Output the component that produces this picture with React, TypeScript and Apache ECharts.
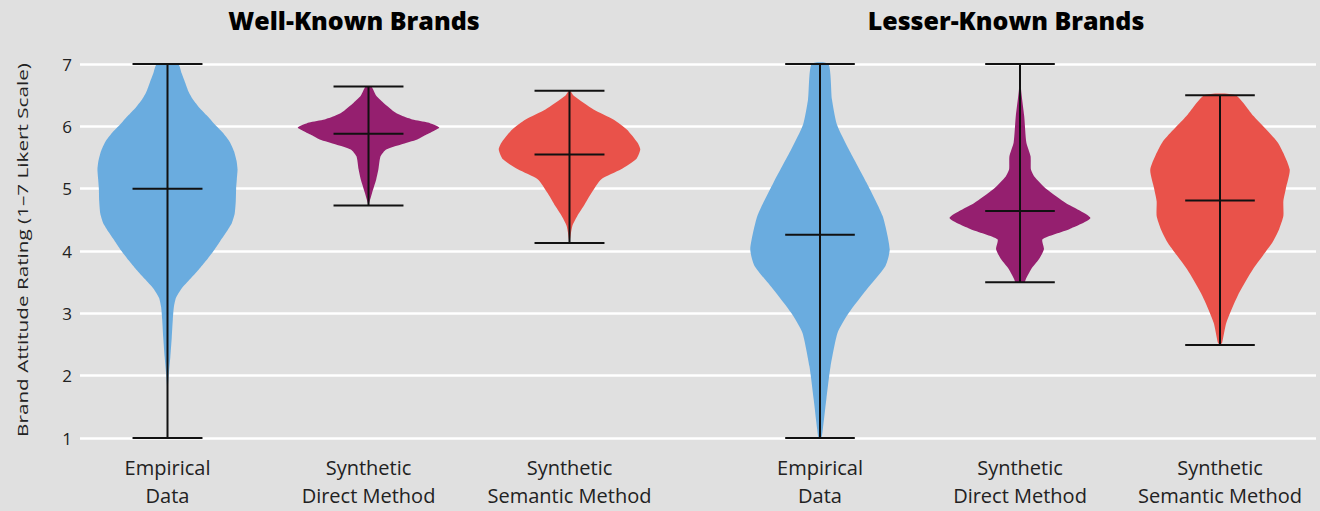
import React, { useEffect, useRef } from 'react';
import * as echarts from 'echarts';

const categories = ['Empirical\nData', 'Synthetic\nDirect Method', 'Synthetic\nSemantic Method'];
const panelTitles = ['Well-Known Brands', 'Lesser-Known Brands'];
const yAxisName = 'Brand Attitude Rating (1–7 Likert Scale)';
const methodColors = ['#6aacdf', '#951f6f', '#e9524a'];

// Whisker ends and centre mark per category
const wellKnownMin = [1, 4.73, 4.13];
const wellKnownMid = [5.0, 5.88, 5.55];
const wellKnownMax = [7, 6.64, 6.57];
const lesserKnownMin = [1, 3.5, 2.49];
const lesserKnownMid = [4.26, 4.64, 4.81];
const lesserKnownMax = [7, 7, 6.5];

// Density profiles, top to bottom: [rating, relative density]
const wellEmpiricalDensity = [
  [7.0, 0.15], [6.85, 0.2], [6.7, 0.25], [6.55, 0.3], [6.43, 0.36], [6.3, 0.45],
  [6.17, 0.56], [6.03, 0.67], [5.9, 0.78], [5.75, 0.88], [5.6, 0.94], [5.45, 0.975],
  [5.31, 0.99], [5.15, 0.98], [5.0, 0.97], [4.8, 0.965], [4.6, 0.95], [4.45, 0.91],
  [4.3, 0.83], [4.15, 0.74], [4.0, 0.65], [3.85, 0.55], [3.7, 0.44], [3.55, 0.32],
  [3.4, 0.2], [3.25, 0.12], [3.1, 0.09], [2.9, 0.075], [2.61, 0.06], [2.3, 0.04],
  [2.05, 0.02], [1.8, 0.005], [1.0, 0.0],
];
const wellDirectDensity = [
  [6.64, 0.04], [6.49, 0.11], [6.38, 0.21], [6.22, 0.38], [6.16, 0.49], [6.11, 0.62],
  [6.06, 0.84], [5.98, 1.0], [5.93, 0.93], [5.87, 0.82], [5.79, 0.69], [5.71, 0.46],
  [5.63, 0.25], [5.52, 0.17], [5.31, 0.14], [5.15, 0.11], [4.93, 0.05], [4.73, 0.0],
];
const wellSemanticDensity = [
  [6.57, 0.01], [6.49, 0.06], [6.27, 0.34], [6.11, 0.62], [5.95, 0.81], [5.74, 0.96],
  [5.63, 1.0], [5.47, 0.94], [5.31, 0.73], [5.15, 0.45], [4.93, 0.31], [4.72, 0.2],
  [4.56, 0.11], [4.4, 0.04], [4.13, 0.0],
];
const lesserEmpiricalDensity = [
  [7.0, 0.12], [6.43, 0.17], [6.03, 0.24], [5.63, 0.41], [5.1, 0.66], [4.56, 0.89],
  [4.03, 0.99], [3.76, 0.93], [3.38, 0.66], [3.01, 0.41], [2.69, 0.25], [2.15, 0.15],
  [1.62, 0.09], [1.14, 0.04], [1.0, 0.02],
];
const lesserDirectDensity = [
  [7.0, 0.0], [6.59, 0.015], [6.16, 0.06], [5.74, 0.09], [5.52, 0.15], [5.31, 0.155],
  [5.2, 0.2], [4.99, 0.38], [4.77, 0.65], [4.53, 1.0], [4.35, 0.7], [4.19, 0.32],
  [4.03, 0.34], [3.87, 0.27], [3.71, 0.16], [3.54, 0.08], [3.5, 0.065],
];
const lesserSemanticDensity = [
  [6.5, 0.22], [6.16, 0.48], [5.74, 0.82], [5.31, 0.99], [5.0, 0.935], [4.8, 0.9],
  [4.56, 0.9], [4.35, 0.84], [4.13, 0.74], [3.71, 0.47], [3.28, 0.25], [2.85, 0.09],
  [2.53, 0.03], [2.49, 0.0],
];

const wellKnownDensities = [wellEmpiricalDensity, wellDirectDensity, wellSemanticDensity];
const lesserKnownDensities = [lesserEmpiricalDensity, lesserDirectDensity, lesserSemanticDensity];

const FONT = '"Open Sans", "Noto Sans", sans-serif';
const INK = '#111111';
const LABEL = '#222222';

type Violin = { density: number[][]; min: number; mid: number; max: number };

const buildViolins = (densities: number[][][], mins: number[], mids: number[], maxs: number[]): Violin[] =>
  densities.map((density, i) => ({ density, min: mins[i], mid: mids[i], max: maxs[i] }));

const violinRenderer = (violins: Violin[]) => (params: any, api: any) => {
  const i = params.dataIndex;
  const v = violins[i];
  const band = api.size([1, 0])[0];
  const cx = api.coord([i, v.mid])[0];
  const widthScale = band * 0.352;
  const capHalf = band * 0.174;
  const right = v.density.map(([r, d]) => [cx + d * widthScale, api.coord([i, r])[1]]);
  const left = v.density
    .slice()
    .reverse()
    .map(([r, d]) => [cx - d * widthScale, api.coord([i, r])[1]]);
  const yMin = api.coord([i, v.min])[1];
  const yMid = api.coord([i, v.mid])[1];
  const yMax = api.coord([i, v.max])[1];
  const lineStyle = { stroke: INK, lineWidth: 2 };
  return {
    type: 'group',
    children: [
      {
        type: 'polygon',
        shape: { points: right.concat(left), smooth: 0.2 },
        style: { fill: methodColors[i] },
      },
      { type: 'line', shape: { x1: cx, y1: yMin, x2: cx, y2: yMax }, style: lineStyle },
      { type: 'line', shape: { x1: cx - capHalf, y1: yMax, x2: cx + capHalf, y2: yMax }, style: lineStyle },
      { type: 'line', shape: { x1: cx - capHalf, y1: yMid, x2: cx + capHalf, y2: yMid }, style: lineStyle },
      { type: 'line', shape: { x1: cx - capHalf, y1: yMin, x2: cx + capHalf, y2: yMin }, style: lineStyle },
    ],
  };
};

export default function App() {
  const ref = useRef<HTMLDivElement>(null);

  useEffect(() => {
    document.body.style.margin = '0';
    if (!ref.current) return;
    const chart = echarts.init(ref.current, null, { renderer: 'svg' });

    const panels = [
      buildViolins(wellKnownDensities, wellKnownMin, wellKnownMid, wellKnownMax),
      buildViolins(lesserKnownDensities, lesserKnownMin, lesserKnownMid, lesserKnownMax),
    ];
    const mids = [wellKnownMid, lesserKnownMid];

    const top = 64;
    const height = 374;
    const panelLefts = [67, 720];
    const panelWidth = 603;

    const catXAxis = (gridIndex: number) => ({
      type: 'category',
      gridIndex,
      data: categories,
      axisLine: { show: false },
      axisTick: { show: false },
      splitLine: { show: false },
      axisLabel: {
        interval: 0,
        hideOverlap: false,
        fontFamily: FONT,
        fontSize: 20,
        lineHeight: 28,
        color: LABEL,
        margin: 15,
      },
    });
    const hiddenYAxis = (gridIndex: number) => ({
      type: 'value',
      gridIndex,
      min: 1,
      max: 7,
      interval: 1,
      show: false,
    });

    const titleText = (text: string, x: number) => ({
      type: 'text',
      x,
      y: 7,
      style: {
        text,
        font: `800 25px ${FONT}`,
        fill: '#000000',
        textAlign: 'center',
        textVerticalAlign: 'top',
      },
    });

    chart.setOption({
      animation: false,
      backgroundColor: '#e0e0e0',
      grid: [
        { left: 80, right: 4, top, height },
        { left: panelLefts[0], width: panelWidth, top, height },
        { left: panelLefts[1], width: panelWidth, top, height },
      ],
      xAxis: [
        { type: 'value', gridIndex: 0, min: 0, max: 1, show: false },
        catXAxis(1),
        catXAxis(2),
      ],
      yAxis: [
        {
          type: 'value',
          gridIndex: 0,
          min: 1,
          max: 7,
          interval: 1,
          axisLine: { show: false },
          axisTick: { show: false },
          splitLine: { show: true, lineStyle: { color: '#ffffff', width: 2.5 } },
          axisLabel: { fontFamily: FONT, fontSize: 17, color: LABEL, margin: 8 },
        },
        hiddenYAxis(1),
        hiddenYAxis(2),
      ],
      graphic: [
        titleText(panelTitles[0], 354),
        titleText(panelTitles[1], 1006),
        {
          type: 'text',
          x: 22,
          y: 250,
          rotation: Math.PI / 2,
          scaleX: 1.38,
          style: {
            text: yAxisName,
            font: `400 15px ${FONT}`,
            fill: LABEL,
            textAlign: 'center',
            textVerticalAlign: 'middle',
          },
        },
      ],
      series: panels.map((violins, p) => ({
        type: 'custom',
        xAxisIndex: p + 1,
        yAxisIndex: p + 1,
        renderItem: violinRenderer(violins),
        encode: { x: 0, y: 1 },
        data: categories.map((_, i) => [i, mids[p][i]]),
        silent: true,
      })),
    });

    return () => chart.dispose();
  }, []);

  return <div ref={ref} style={{ width: 1320, height: 511 }} />;
}
